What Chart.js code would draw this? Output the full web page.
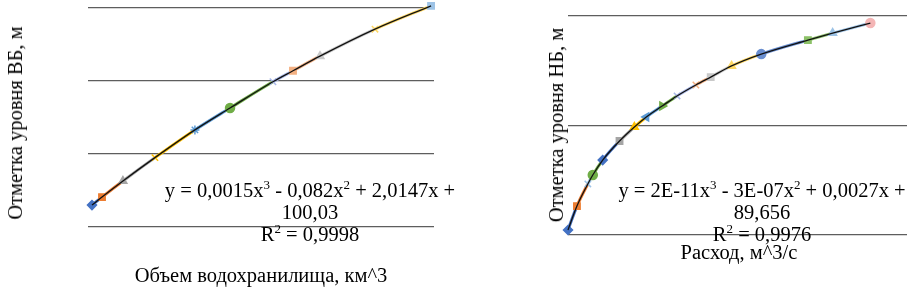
<!DOCTYPE html>
<html>
<head>
<meta charset="utf-8">
<script src="https://cdn.jsdelivr.net/npm/chart.js@4/dist/chart.umd.min.js"></script>
<style>
  body { margin: 0; background: #fff; width: 913px; height: 289px; position: relative; overflow: hidden; }
  canvas { position: absolute; top: 0; }
  .t { position: absolute; font-family: "Liberation Serif", serif; font-size: 20.5px; color: #000; white-space: nowrap; line-height: 22px; text-align: center; }
  .rot { transform: translate(-50%, -50%) rotate(-90deg); }
  sup { font-size: 13px; line-height: 0; vertical-align: 8px; }
</style>
</head>
<body>
<canvas id="left" width="456" height="289" style="left:0"></canvas>
<canvas id="right" width="457" height="289" style="left:456px"></canvas>

<div class="t rot" style="left:15px; top:123px;">Отметка уровня ВБ, м</div>
<div class="t" style="left:261px; top:275px; transform:translate(-50%,-50%)">Объем водохранилища, км^3</div>
<div class="t" style="left:310px; top:179px; transform:translateX(-50%)">y = 0,0015x<sup>3</sup> - 0,082x<sup>2</sup> + 2,0147x +<br>100,03<br>R<sup>2</sup> = 0,9998</div>

<div class="t rot" style="left:556px; top:125px;">Отметка уровня НБ, м</div>
<div class="t" style="left:739px; top:252px; transform:translate(-50%,-50%)">Расход, м^3/с</div>
<div class="t" style="left:762px; top:179px; transform:translateX(-50%)">y = 2E-11x<sup>3</sup> - 3E-07x<sup>2</sup> + 0,0027x +<br>89,656<br>R<sup>2</sup> = 0,9976</div>

<script>
// left chart: volume (km^3) vs upstream level (m)
const volX = [0.23, 0.81, 2.02, 3.87, 6.18, 8.21, 10.69, 11.85, 13.41, 16.59, 19.83];
const levelUp = [93.0, 94.1, 96.3, 99.5, 103.3, 106.3, 109.9, 111.4, 113.4, 117.1, 120.3];
const upTicks = [90, 100, 110, 120];

// right chart: discharge (m^3/s) vs downstream level (m)
const flowX = [0, 211, 468, 585, 819, 1216, 1567, 1848, 2222, 2573, 3018, 3368, 3860, 4561, 5661, 6246, 7135];
const levelDown = [90.23, 91.32, 92.33, 92.74, 93.42, 94.29, 94.93, 95.39, 95.89, 96.35, 96.85, 97.21, 97.72, 98.26, 98.9, 99.22, 99.68];
const downTicks = [90, 95, 100];

// marker styles (Excel-like series look)
const upColors = ['#4472C4', '#ED7D31', '#A5A5A5', '#FFC000', '#5B9BD5', '#70AD47', '#A9B8E8', '#F4B183', '#C9C9C9', '#FFD966', '#9DC3E6'];
const upShapes = ['rectRot', 'rect', 'triangle', 'crossRot', 'star', 'circle', 'crossRot', 'rect', 'triangle', 'crossRot', 'rect'];
const downColors = ['#4472C4', '#ED7D31', '#9DC3E6', '#70AD47', '#4472C4', '#A5A5A5', '#FFC000', '#5B9BD5', '#70AD47', '#A9B8E8', '#F4B183', '#C9C9C9', '#FFD966', '#698ED0', '#8CC168', '#9DC3E6', '#F4B6B6'];
const downShapes = ['rectRot', 'rect', 'crossRot', 'circle', 'rectRot', 'rect', 'triangle', 'triangle', 'triangle', 'crossRot', 'crossRot', 'rect', 'triangle', 'circle', 'rect', 'triangle', 'circle'];
const downRot = [0, 0, 0, 0, 0, 0, 0, -90, 90, 0, 0, 0, 0, 0, 0, 0, 0];

function makeChart(id, xs, ys, ticks, colors, shapes, rot, xMax, pad) {
  const pts = xs.map((x, i) => ({ x: x, y: ys[i] }));
  new Chart(document.getElementById(id), {
    type: 'scatter',
    data: {
      datasets: [
        {
          // black polynomial trendline
          type: 'line',
          data: pts,
          borderColor: '#111',
          borderWidth: 1.3,
          pointRadius: 0,
          cubicInterpolationMode: 'monotone',
          clip: false,
          order: 0
        },
        {
          // colored segments between series points
          type: 'line',
          data: pts,
          borderWidth: 3,
          segment: { borderColor: ctx => colors[ctx.p0DataIndex] },
          pointRadius: 0,
          cubicInterpolationMode: 'monotone',
          clip: false,
          order: 2
        },
        {
          data: pts,
          pointStyle: shapes,
          pointRotation: rot,
          backgroundColor: colors,
          borderColor: colors,
          borderWidth: 1.5,
          pointRadius: 4.5,
          clip: false,
          order: 1
        }
      ]
    },
    options: {
      responsive: false,
      animation: false,
      layout: { padding: pad },
      plugins: { legend: { display: false }, tooltip: { enabled: false } },
      scales: {
        x: { type: 'linear', display: false, min: 0, max: xMax },
        y: {
          min: ticks[0],
          max: ticks[ticks.length - 1],
          afterBuildTicks: s => { s.ticks = ticks.map(v => ({ value: v })); },
          ticks: { display: false },
          border: { display: false },
          grid: { color: '#5e5e5e', lineWidth: 1.3, drawTicks: false }
        }
      }
    }
  });
}

makeChart('left', volX, levelUp, upTicks, upColors, upShapes, 0, 20,
  { left: 88, right: 22, top: 8, bottom: 62 });
makeChart('right', flowX, levelDown, downTicks, downColors, downShapes, downRot, 8000,
  { left: 112, right: 3, top: 16, bottom: 54 });
</script>
</body>
</html>
